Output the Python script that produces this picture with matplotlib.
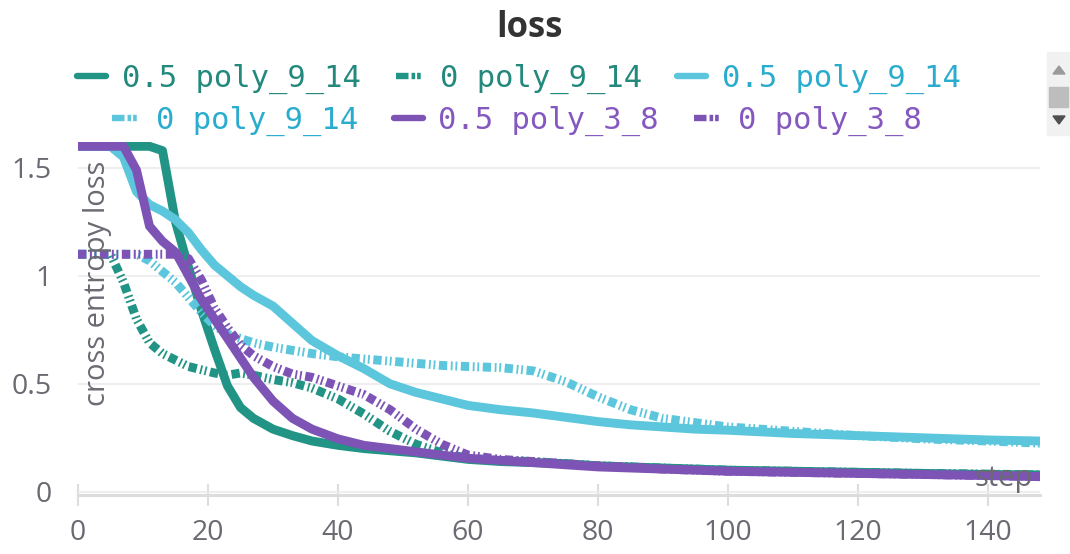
import matplotlib
matplotlib.use("Agg")
import matplotlib.pyplot as plt
from matplotlib.lines import Line2D
from matplotlib.patches import Rectangle, Polygon

# steps shared by all runs
steps = [0, 5, 7, 9, 11, 13, 15, 17, 19, 21, 23, 25, 27, 30, 33, 36, 40, 44, 48,
         52, 56, 60, 65, 70, 75, 80, 85, 90, 95, 100, 110, 120, 130, 140, 148]

teal_05 = [1.6, 1.6, 1.6, 1.6, 1.6, 1.58, 1.25, 1.04, 0.84, 0.66, 0.49, 0.39, 0.34,
           0.29, 0.26, 0.235, 0.215, 0.20, 0.19, 0.18, 0.165, 0.15, 0.14, 0.135,
           0.13, 0.12, 0.115, 0.11, 0.105, 0.10, 0.095, 0.09, 0.085, 0.08, 0.078]
teal_0 = [1.1, 1.1, 0.97, 0.80, 0.69, 0.64, 0.61, 0.58, 0.565, 0.55, 0.54, 0.55,
          0.54, 0.52, 0.505, 0.48, 0.43, 0.36, 0.28, 0.22, 0.18, 0.155, 0.145,
          0.14, 0.13, 0.12, 0.115, 0.11, 0.105, 0.10, 0.095, 0.09, 0.085, 0.082, 0.078]
cyan_05 = [1.6, 1.6, 1.55, 1.39, 1.33, 1.30, 1.26, 1.20, 1.12, 1.05, 1.0, 0.95,
           0.91, 0.86, 0.78, 0.70, 0.63, 0.57, 0.50, 0.46, 0.43, 0.40, 0.38, 0.365,
           0.345, 0.325, 0.31, 0.30, 0.29, 0.285, 0.27, 0.26, 0.25, 0.24, 0.235]
cyan_0 = [1.1, 1.1, 1.1, 1.1, 1.07, 1.02, 0.97, 0.90, 0.83, 0.77, 0.73, 0.71, 0.69,
          0.67, 0.655, 0.64, 0.625, 0.615, 0.605, 0.595, 0.585, 0.58, 0.575, 0.56,
          0.51, 0.44, 0.38, 0.34, 0.32, 0.30, 0.28, 0.26, 0.245, 0.235, 0.225]
purple_05 = [1.6, 1.6, 1.6, 1.49, 1.23, 1.16, 1.11, 1.0, 0.89, 0.80, 0.71, 0.62,
             0.53, 0.42, 0.34, 0.29, 0.245, 0.215, 0.20, 0.185, 0.17, 0.155, 0.145,
             0.135, 0.125, 0.115, 0.11, 0.105, 0.10, 0.095, 0.09, 0.085, 0.08, 0.075, 0.07]
purple_0 = [1.1, 1.1, 1.1, 1.1, 1.1, 1.1, 1.1, 1.08, 0.98, 0.85, 0.76, 0.68, 0.63,
            0.58, 0.545, 0.53, 0.49, 0.45, 0.38, 0.29, 0.22, 0.17, 0.15, 0.14, 0.13,
            0.12, 0.115, 0.105, 0.10, 0.095, 0.09, 0.085, 0.08, 0.075, 0.07]

labels = ["0.5 poly_9_14", "0 poly_9_14", "0.5 poly_9_14",
          "0 poly_9_14", "0.5 poly_3_8", "0 poly_3_8"]

TEAL = "#229485"
CYAN = "#5bc6dc"
PURPLE = "#7d54b5"
text_cols = ["#23897c", "#23897c", "#2aaccf", "#2aaccf", "#8558c0", "#8558c0"]
GRAY = "#6a6a72"

plt.rcParams["lines.scale_dashes"] = False
dashdot = (0, (6, 2.6, 1.3, 2.0, 1.3, 2.6))
leg_dash = (0, (9, 2.2, 2.6, 1.4, 2.6, 20))

fig = plt.figure(figsize=(10.7, 5.54), dpi=100)
ax = fig.add_axes([78 / 1070, 1 - 495 / 554, (1040 - 78) / 1070, 353 / 554])

series = [teal_05, teal_0, cyan_05, cyan_0, purple_05, purple_0]
colors = [TEAL, TEAL, CYAN, CYAN, PURPLE, PURPLE]
proxies = []
for i, ys in enumerate(series):
    solid = i % 2 == 0
    ax.plot(steps, ys, color=colors[i], lw=6.4, linestyle="-" if solid else dashdot,
            solid_capstyle="round", dash_capstyle="butt", solid_joinstyle="round")
    proxies.append(Line2D([], [], color=colors[i], lw=4.6,
                          linestyle="-" if solid else leg_dash,
                          solid_capstyle="round", dash_capstyle="butt"))

ax.set_xlim(0, 148)
ax.set_ylim(-0.015, 1.62)
ax.set_xticks([0, 20, 40, 60, 80, 100, 120, 140])
ax.set_yticks([0, 0.5, 1, 1.5])
ax.set_yticklabels(["0", "0.5", "1", "1.5"])
for sp in ["top", "right", "left"]:
    ax.spines[sp].set_visible(False)
ax.spines["bottom"].set_color("#dddddd")
ax.spines["bottom"].set_linewidth(2.2)
ax.grid(axis="y", color="#ebebeb", lw=1.2)
ax.tick_params(axis="x", direction="inout", length=16, width=1.5, color="#dddddd",
               labelsize=20.5, labelcolor=GRAY, pad=9)
ax.tick_params(axis="y", length=0, labelsize=20.5, labelcolor=GRAY, pad=19)
for t in ax.get_xticklabels() + ax.get_yticklabels():
    t.set_fontfamily("Open Sans")

ax.text(0.02, 0.6, "cross entropy loss", transform=ax.transAxes, rotation=90,
        ha="center", va="center", fontsize=21, color=GRAY, family="Open Sans")
ax.text(0.993, 0.048, "step", transform=ax.transAxes, ha="right", va="center",
        fontsize=21, color=GRAY, family="Open Sans")

fig.text(0.495, 0.95, "loss", ha="center", va="center", fontsize=25,
         fontweight="bold", family="Open Sans", color="#333333")

leg_kw = dict(frameon=False, handlelength=0.95, handletextpad=0.5,
              columnspacing=1.15, ncol=3, borderaxespad=0, borderpad=0,
              prop={"family": "DejaVu Sans Mono", "size": 22})
leg1 = fig.legend(proxies[:3], labels[:3], loc="center", bbox_to_anchor=(0.485, 0.858), **leg_kw)
leg2 = fig.legend(proxies[3:], labels[3:], loc="center", bbox_to_anchor=(0.483, 0.782), **leg_kw)
for leg, cols in [(leg1, text_cols[:3]), (leg2, text_cols[3:])]:
    for t, c in zip(leg.get_texts(), cols):
        t.set_color(c)

# scrollbar on the right edge
fig.patches.append(Rectangle((1047 / 1070, 1 - 135 / 554), 23 / 1070, 83 / 554,
                             transform=fig.transFigure, color="#f1f1f1", zorder=0))
fig.patches.append(Rectangle((1049 / 1070, 1 - 107 / 554), 19 / 1070, 20 / 554,
                             transform=fig.transFigure, color="#bdbdbd"))
fig.patches.append(Polygon([(1053 / 1070, 1 - 74 / 554), (1065 / 1070, 1 - 74 / 554),
                            (1059 / 1070, 1 - 66 / 554)], transform=fig.transFigure,
                           color="#9a9a9a"))
fig.patches.append(Polygon([(1053 / 1070, 1 - 116 / 554), (1065 / 1070, 1 - 116 / 554),
                            (1059 / 1070, 1 - 124 / 554)], transform=fig.transFigure,
                           color="#505050"))

fig.savefig("out.png", dpi=100)
